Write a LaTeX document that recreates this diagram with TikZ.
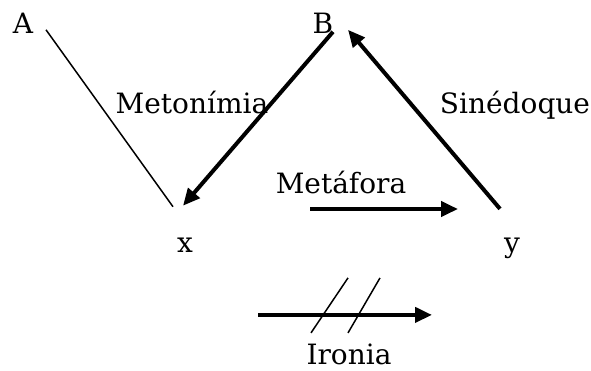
\documentclass[tikz,border=0pt]{standalone}
\usepackage{fontspec}
\setmainfont{DejaVu Serif}
\usetikzlibrary{arrows.meta,calc}

\begin{document}
\begin{tikzpicture}[x=1pt,y=-1pt,
  lbl/.style={anchor=base,inner sep=0pt,font=\fontsize{28}{32}\selectfont},
  fino/.style={line width=1.5pt},
  seta/.style={line width=4pt,-{Triangle[length=17pt,width=15pt]}}]
  \useasboundingbox (0,0) rectangle (591,370);
  % letters of the two triangles
  \node[lbl] (A) at (23,33) {A};
  \node[lbl] (B) at (323,33) {B};
  \node[lbl] (x) at (185,252) {x};
  \node[lbl] (y) at (512,252) {y};
  % figure names
  \node[lbl] (meton) at (192,113) {Metonímia};
  \node[lbl] (sined) at (515,113) {Sinédoque};
  \node[lbl] (metaf) at (341,193) {Metáfora};
  \node[lbl] (iron) at (349,364) {Ironia};
  \draw[fino] ($(A)+(23,7)$) -- ($(x)+(-12,-38)$);
  \draw[seta] ($(B)+(10,9)$) -- ($(x)+(-2,-39)$);
  \draw[seta] ($(y)+(-12,-39)$) -- ($(B)+(25,7)$);
  \draw[seta] ($(metaf)+(-31,27)$) -- ($(metaf)+(117,27)$);
  \draw[seta] ($(iron)+(-91,-39)$) -- ($(iron)+(83,-39)$);
  % the two strokes over the irony arrow
  \draw[fino] ($(iron)+(-1,-76)$) -- ($(iron)+(-38,-21)$);
  \draw[fino] ($(iron)+(31,-76)$) -- ($(iron)+(-1,-21)$);
\end{tikzpicture}
\end{document}
